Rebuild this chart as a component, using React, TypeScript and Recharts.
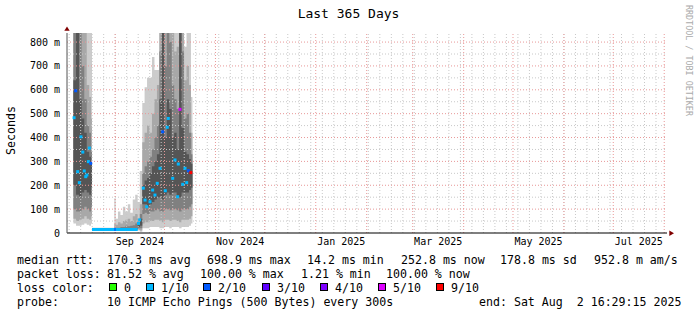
import {
  Area,
  ComposedChart,
  Line,
  ReferenceLine,
  Scatter,
  XAxis,
  YAxis,
} from 'recharts'

// time axis: days since the graph start (Aug 2 2024 16:29:15)
const START = Date.UTC(2024, 7, 2, 16, 29, 15)
const dayOf = (y: number, m: number, d: number) => (Date.UTC(y, m, d) - START) / 86400000

const yTicks = [0, 100, 200, 300, 400, 500, 600, 700, 800]
const yMinor = [50, 150, 250, 350, 450, 550, 650, 750]

const labelMonths: Array<[number, number, string]> = [
  [2024, 8, 'Sep 2024'],
  [2024, 10, 'Nov 2024'],
  [2025, 0, 'Jan 2025'],
  [2025, 2, 'Mar 2025'],
  [2025, 4, 'May 2025'],
  [2025, 6, 'Jul 2025'],
]

// smoke columns: [day, b0lo, b0hi, b1lo, b1hi, b2lo, b2hi, b3lo, b3hi] in ms
const block1Smoke = [
  [3.9, 40, 900, 60, 900, 100, 900, 200, 640],
  [5.5, 30, 900, 50, 900, 90, 900, 160, 900],
  [7.3, 30, 900, 55, 900, 90, 900, 150, 560],
  [8.9, 35, 900, 60, 900, 100, 700, 170, 480],
  [10.5, 40, 900, 70, 900, 110, 560, 180, 420],
  [12.0, 35, 900, 60, 620, 100, 450, 170, 340],
  [13.5, 30, 900, 55, 570, 90, 420, 160, 320],
  [14.6, 40, 900, 70, 480, 110, 340, 190, 300],
]

const lowSmoke = [
  [15.2, 10, 22, 12, 20, 13, 18, 14, 17],
  [20.0, 10, 22, 12, 20, 13, 18, 14, 17],
  [25.0, 10, 22, 12, 20, 13, 18, 14, 17],
  [28.8, 8, 146, 12, 40, 13, 22, 14, 17],
  [29.6, 10, 60, 12, 35, 13, 22, 14, 17],
  [31.0, 10, 90, 12, 45, 13, 22, 14, 17],
  [32.5, 10, 75, 12, 40, 14, 25, 14, 17],
  [34.0, 10, 110, 12, 50, 14, 25, 14, 17],
  [35.5, 10, 90, 12, 55, 14, 30, 15, 18],
  [37.0, 10, 120, 12, 60, 14, 28, 15, 18],
  [38.5, 10, 85, 12, 50, 14, 30, 15, 18],
  [40.0, 10, 140, 12, 70, 14, 32, 15, 18],
  [41.5, 10, 160, 12, 80, 15, 40, 16, 20],
  [43.0, 10, 130, 14, 60, 20, 40, 25, 35],
]

const block2Smoke = [
  [44.3, 5, 260, 10, 120, 20, 80, 30, 60],
  [45.8, 20, 545, 40, 380, 80, 250, 120, 200],
  [47.2, 20, 611, 45, 420, 85, 280, 120, 220],
  [48.7, 20, 650, 45, 450, 80, 300, 110, 230],
  [50.2, 25, 650, 50, 420, 90, 320, 120, 250],
  [51.7, 25, 737, 50, 500, 90, 350, 130, 280],
  [53.2, 25, 683, 55, 560, 95, 400, 140, 300],
  [54.7, 25, 683, 55, 620, 100, 450, 150, 330],
  [56.2, 20, 900, 50, 900, 90, 760, 150, 560],
  [57.7, 20, 900, 45, 900, 90, 900, 140, 900],
  [59.2, 25, 900, 55, 900, 100, 700, 160, 400],
  [60.7, 25, 900, 55, 900, 100, 900, 170, 560],
  [62.2, 20, 900, 50, 900, 95, 800, 160, 520],
  [63.7, 25, 900, 55, 900, 100, 620, 170, 400],
  [65.2, 25, 900, 55, 760, 100, 560, 170, 420],
  [66.7, 25, 900, 50, 780, 95, 520, 150, 350],
  [68.2, 20, 900, 45, 900, 90, 900, 150, 900],
  [69.7, 25, 900, 55, 900, 100, 760, 170, 440],
  [71.2, 25, 780, 55, 640, 100, 480, 170, 340],
  [72.7, 25, 900, 55, 700, 100, 500, 170, 330],
  [74.2, 30, 900, 60, 620, 110, 420, 180, 310],
  [75.4, 40, 570, 70, 420, 120, 330, 190, 290],
  [76.3, 40, 570, 70, 420, 120, 330, 190, 290],
]

// flat low-rtt period (1/10 loss), plus the short 2/10 stretch
const lowMedian = 15
const lowMedianDays = [15.2, 20.0, 25.0, 28.8, 29.6, 31.0, 32.5, 34.0, 35.5, 37.0, 38.5, 40.0, 41.5, 43.0]
const lowMedian2Days = [28.8, 29.6]

// median marks: [day, ms, loss /10]
const medians = [
  [4.3, 483, 1], [5.3, 596, 2], [6.5, 257, 1], [7.5, 211, 1], [8.5, 403, 1],
  [9.6, 339, 1], [10.5, 260, 1], [11.4, 236, 1], [12.1, 243, 1], [13.0, 299, 1],
  [13.6, 356, 1], [14.4, 292, 2],
  [43.5, 40, 1], [44.2, 55, 1], [46.4, 188, 1], [47.5, 138, 1], [48.5, 110, 1],
  [50.5, 131, 1], [52.1, 180, 1], [53.5, 159, 1], [54.9, 208, 1], [56.6, 271, 1],
  [58.2, 424, 2], [59.8, 177, 1], [61.0, 443, 1], [61.6, 480, 1], [64.3, 229, 1],
  [65.7, 306, 1], [67.3, 152, 1], [67.7, 289, 1], [68.7, 518, 5], [70.4, 204, 1],
  [71.8, 271, 1], [72.8, 211, 1], [73.8, 261, 2], [75.3, 253, 9],
]

const lossColors: Record<number, string> = {
  0: '#26ff00',
  1: '#00b8ff',
  2: '#0059ff',
  3: '#5e00ff',
  4: '#7e00ff',
  5: '#dd00ff',
  9: '#ff0000',
}
const lossLegend: Array<[number, string]> = [
  [0, '0'], [1, '1/10'], [2, '2/10'], [3, '3/10'], [4, '4/10'], [5, '5/10'], [9, '9/10'],
]

const smokeColors = ['#cccccc', '#a8a8a8', '#808080', '#555555']

const rows = [...block1Smoke, ...lowSmoke, ...block2Smoke].map((r) => ({
  day: r[0],
  b0: [r[1], r[2]],
  b1: [r[3], r[4]],
  b2: [r[5], r[6]],
  b3: [r[7], r[8]],
  low: lowMedianDays.includes(r[0]) ? lowMedian : null,
  low2: lowMedian2Days.includes(r[0]) ? lowMedian : null,
}))

const medianPts = medians.map((m) => ({ day: m[0], med: m[1], loss: m[2] }))

const monthLines: number[] = []
for (let i = 0; i < 12; i++) monthLines.push(dayOf(2024, 8 + i, 1))
const weekLines: number[] = []
for (let d = dayOf(2024, 7, 4); d < 365; d += 7) weekLines.push(d)

const labelTicks = labelMonths.map(([y, m]) => (dayOf(y, m, 1) + dayOf(y, m + 1, 1)) / 2)
const labelText = (v: number) => {
  const i = labelTicks.findIndex((t) => Math.abs(t - v) < 0.01)
  return i >= 0 ? labelMonths[i][2] : ''
}

const FONT = 'DejaVu Sans Mono'
const minorGrid = '#c8c8c8'
const majorGrid = '#e89898'

const MedianMark = (props: any) => {
  const { cx, cy, payload } = props
  if (cx == null || cy == null) return null
  return <rect x={cx - 1.5} y={cy - 1.5} width={3} height={3} fill={lossColors[payload.loss]} />
}

const legendRows: Array<Array<[number, string]>> = [
  [[17, 'median rtt:'], [107, '170.3 ms avg'], [207, '698.9 ms max'], [307, '14.2 ms min'], [401, '252.8 ms now'], [500, '178.8 ms sd'], [594, '952.8 m am/s']],
  [[17, 'packet loss:'], [107, '81.52 % avg'], [200, '100.00 % max'], [301, '1.21 % min'], [386, '100.00 % now']],
  [[17, 'loss color:']],
  [[17, 'probe:'], [107, '10 ICMP Echo Pings (500 Bytes) every 300s'], [479, 'end: Sat Aug  2 16:29:15 2025']],
]
const swatchX = [109, 146, 203, 262, 320, 378, 436]

export default function App() {
  return (
    <div style={{ position: 'absolute', left: 0, top: 0, width: 697, height: 315, background: '#fff' }}>
      <ComposedChart
        width={697}
        height={315}
        data={rows}
        margin={{ top: 33, right: 30, bottom: 62, left: 7 }}
      >
        <XAxis
          dataKey="day"
          type="number"
          domain={[0, 365]}
          ticks={labelTicks}
          tickFormatter={labelText}
          interval={0}
          height={20}
          tickLine={false}
          tickSize={2}
          tickMargin={2.5}
          axisLine={{ stroke: '#000' }}
          tick={{ fontSize: 10, fontFamily: FONT, fill: '#000' }}
          allowDataOverflow
        />
        <YAxis
          type="number"
          domain={[0, 838]}
          ticks={yTicks}
          interval={0}
          width={60}
          allowDataOverflow
          tickLine={false}
          tickSize={5}
          tickMargin={2}
          axisLine={{ stroke: '#555' }}
          tickFormatter={(v: number) => (v === 0 ? '0' : `${v} m`)}
          tick={{ fontSize: 10, fontFamily: FONT, fill: '#000' }}
        />
        {['b0', 'b1', 'b2', 'b3'].map((k, i) => (
          <Area
            key={k}
            dataKey={k}
            type="stepAfter"
            stroke="none"
            fill={smokeColors[i]}
            fillOpacity={1}
            dot={false}
            activeDot={false}
            isAnimationActive={false}
          />
        ))}
        {weekLines.map((d) => (
          <ReferenceLine key={`w${d}`} x={d} stroke={minorGrid} strokeDasharray="1 2" />
        ))}
        {yMinor.map((v) => (
          <ReferenceLine key={`hm${v}`} y={v} stroke={minorGrid} strokeDasharray="1 2" />
        ))}
        {monthLines.map((d) => (
          <ReferenceLine key={`m${d}`} x={d} stroke={majorGrid} strokeDasharray="1 2" />
        ))}
        {yTicks.slice(1).map((v) => (
          <ReferenceLine key={`h${v}`} y={v} stroke={majorGrid} strokeDasharray="1 2" />
        ))}
        <Line
          dataKey="low"
          type="stepAfter"
          stroke={lossColors[1]}
          strokeWidth={3}
          dot={false}
          activeDot={false}
          isAnimationActive={false}
        />
        <Line
          dataKey="low2"
          type="stepAfter"
          stroke={lossColors[2]}
          strokeWidth={3}
          dot={false}
          activeDot={false}
          isAnimationActive={false}
        />
        <Scatter data={medianPts} dataKey="med" shape={MedianMark} isAnimationActive={false} />
      </ComposedChart>
      <svg
        width={697}
        height={315}
        style={{ position: 'absolute', left: 0, top: 0, pointerEvents: 'none' }}
        fontFamily={FONT}
      >
        <text x={348.5} y={18} textAnchor="middle" fontSize={13} fill="#000">
          Last 365 Days
        </text>
        <text x={15} y={130.5} textAnchor="middle" fontSize={11.6} fill="#000" transform="rotate(-90 15 130.5)">
          Seconds
        </text>
        <text x={686} y={5} fontSize={8.4} fill="#aaa" transform="rotate(90 686 5)">
          RRDTOOL / TOBI OETIKER
        </text>
        <polygon points="64.3,30.8 69.7,30.8 67,26.5" fill="#800000" />
        <polygon points="669.3,230.5 669.3,236 674,233.2" fill="#800000" />
        {legendRows.map((row, r) =>
          row.map(([x, s]) => (
            <text key={`${r}-${x}`} x={x} y={263.5 + r * 14} fontSize={11.6} fill="#000" style={{ whiteSpace: 'pre' }}>
              {s}
            </text>
          )),
        )}
        {lossLegend.map(([k, s], i) => (
          <g key={k}>
            <rect x={swatchX[i] + 0.5} y={283.5} width={7} height={7} fill={lossColors[k]} stroke="#000" strokeWidth={1} />
            <text x={swatchX[i] + 15} y={291.5} fontSize={11.6} fill="#000">
              {s}
            </text>
          </g>
        ))}
      </svg>
    </div>
  )
}
